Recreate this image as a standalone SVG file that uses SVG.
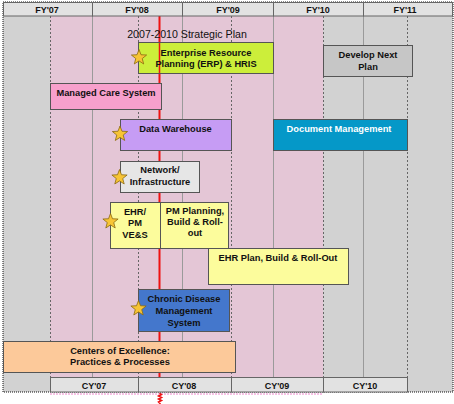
<svg xmlns="http://www.w3.org/2000/svg" width="454" height="404" viewBox="0 0 454 404">
<style>
  text { font-family: "Liberation Sans", Arial, sans-serif; font-size: 9.3px; font-weight: bold; fill: #111; text-anchor: middle; }
  .box { stroke: #555; stroke-width: 1; }
  .hdr { fill: #e2e2e2; stroke: #666; stroke-width: 1; }
  .hdrt { font-size: 9px; }
  .solid { stroke: #9a9a9a; stroke-width: 1; }
  .dash { stroke: #666; stroke-width: 1; stroke-dasharray: 2 2; }
  .star { fill: #f7c435; stroke: #8a6a10; stroke-width: 0.8; }
  .title { font-weight: normal; font-size: 10.6px; }
</style>
<defs>
  <polygon id="star" class="star" points="0,-8 2,-2.75 7.61,-2.47 3.23,1.05 4.7,6.47 0,3.4 -4.7,6.47 -3.23,1.05 -7.61,-2.47 -2,-2.75"/>
</defs>
<rect x="0" y="0" width="454" height="404" fill="#ffffff"/>
<g id="background">
  <rect x="3" y="2" width="450" height="390" fill="#d2d2d2"/>
  <rect x="50" y="16" width="273" height="361" fill="#e4c6d6"/>
  <line x1="50" y1="394" x2="323" y2="394" stroke="#ee88cc" stroke-width="1" stroke-dasharray="2 1"/>
  <line class="solid" x1="92.5" y1="16" x2="92.5" y2="377"/>
  <line class="solid" x1="182.5" y1="16" x2="182.5" y2="377"/>
  <line class="solid" x1="273.5" y1="16" x2="273.5" y2="377"/>
  <line class="solid" x1="363.5" y1="16" x2="363.5" y2="377"/>
  <line class="dash" x1="50.5" y1="16" x2="50.5" y2="377"/>
  <line class="dash" x1="138.5" y1="16" x2="138.5" y2="377"/>
  <line class="dash" x1="231.5" y1="16" x2="231.5" y2="377"/>
  <line class="dash" x1="323.5" y1="16" x2="323.5" y2="377"/>
  <line class="dash" x1="407.5" y1="16" x2="407.5" y2="377"/>
  <line x1="159.5" y1="16" x2="159.5" y2="392" stroke="#ee1111" stroke-width="2"/>
  <path d="M159.5,393 l2,1.5 l-3,1.5 l3,1.5 l-3,1.5 l3,1.5 l-3,1.5 l2,2" fill="none" stroke="#ee1111" stroke-width="1.5"/>
  <rect x="3" y="2" width="450" height="390" fill="none" stroke="#111" stroke-width="1" stroke-dasharray="1 1"/>
</g>
<g id="fy-header">
  <rect class="hdr" x="3.5" y="2.5" width="89" height="13.5"/>
  <rect class="hdr" x="92.5" y="2.5" width="90" height="13.5"/>
  <rect class="hdr" x="182.5" y="2.5" width="91" height="13.5"/>
  <rect class="hdr" x="273.5" y="2.5" width="90" height="13.5"/>
  <rect class="hdr" x="363.5" y="2.5" width="89" height="13.5"/>
  <text class="hdrt" x="47" y="13">FY'07</text>
  <text class="hdrt" x="137" y="13">FY'08</text>
  <text class="hdrt" x="228" y="13">FY'09</text>
  <text class="hdrt" x="318" y="13">FY'10</text>
  <text class="hdrt" x="405" y="13">FY'11</text>
</g>
<g id="cy-header">
  <rect class="hdr" x="50.5" y="377.5" width="88" height="14.5"/>
  <rect class="hdr" x="138.5" y="377.5" width="93" height="14.5"/>
  <rect class="hdr" x="231.5" y="377.5" width="92" height="14.5"/>
  <rect class="hdr" x="323.5" y="377.5" width="84" height="14.5"/>
  <text class="hdrt" x="94" y="389">CY'07</text>
  <text class="hdrt" x="184" y="389">CY'08</text>
  <text class="hdrt" x="277" y="389">CY'09</text>
  <text class="hdrt" x="365" y="389">CY'10</text>
</g>
<g id="title">
  <text class="title" x="187" y="37.5">2007-2010 Strategic Plan</text>
</g>
<g id="erp">
  <rect class="box" x="138.5" y="42.5" width="135" height="31" fill="#ccee3a"/>
  <line x1="159.5" y1="43" x2="159.5" y2="73" stroke="#ee1111" stroke-width="1.5"/>
  <text x="206" y="55.5">Enterprise Resource</text>
  <text x="206" y="66.5">Planning (ERP) &amp; HRIS</text>
  <use href="#star" x="139" y="57.5"/>
</g>
<g id="develop-next-plan">
  <rect class="box" x="323.5" y="45.5" width="89" height="31" fill="#c6c6c6"/>
  <text x="368" y="57.5">Develop Next</text>
  <text x="368" y="69.5">Plan</text>
</g>
<g id="managed-care">
  <rect class="box" x="50.5" y="83.5" width="111" height="26" fill="#f7a0cc"/>
  <text x="106" y="96">Managed Care System</text>
</g>
<g id="data-warehouse">
  <rect class="box" x="120.5" y="119.5" width="111" height="31" fill="#c69cf4"/>
  <text x="175.5" y="132">Data Warehouse</text>
  <use href="#star" x="120" y="134"/>
</g>
<g id="document-management">
  <rect class="box" x="273.5" y="119.5" width="134" height="31" fill="#0598c8"/>
  <text x="339" y="131.5" style="fill:#ffffff">Document Management</text>
</g>
<g id="network">
  <rect class="box" x="120.5" y="161.5" width="79" height="31" fill="#e6e6e6"/>
  <text x="160" y="172.5">Network/</text>
  <text x="160" y="184.5">Infrastructure</text>
  <use href="#star" x="119.5" y="177.5"/>
</g>
<g id="ehr-pm-ves">
  <rect class="box" x="110.5" y="202.5" width="50" height="46" fill="#fcfc9c"/>
  <text x="135" y="214.5">EHR/</text>
  <text x="135" y="226">PM</text>
  <text x="135" y="237.5">VE&amp;S</text>
  <use href="#star" x="110.5" y="221.5"/>
</g>
<g id="pm-planning">
  <rect class="box" x="160.5" y="202.5" width="68" height="46" fill="#fcfc9c"/>
  <text x="195" y="213.5">PM Planning,</text>
  <text x="195" y="225">Build &amp; Roll-</text>
  <text x="195" y="236">out</text>
</g>
<g id="ehr-plan">
  <rect class="box" x="208.5" y="248.5" width="140" height="36" fill="#fcfc9c"/>
  <text x="278" y="260.5">EHR Plan, Build &amp; Roll-Out</text>
</g>
<g id="chronic-disease">
  <rect class="box" x="138.5" y="289.5" width="91" height="42" fill="#4477cc"/>
  <text x="184" y="301.5">Chronic Disease</text>
  <text x="184" y="313.5">Management</text>
  <text x="184" y="325.5">System</text>
  <use href="#star" x="138.5" y="308.5"/>
</g>
<g id="centers-of-excellence">
  <rect class="box" x="3.5" y="341.5" width="232" height="31" fill="#fcc99a"/>
  <text x="120" y="353.5">Centers of Excellence:</text>
  <text x="120" y="365">Practices &amp; Processes</text>
</g>
<g id="connectors"></g>
</svg>
